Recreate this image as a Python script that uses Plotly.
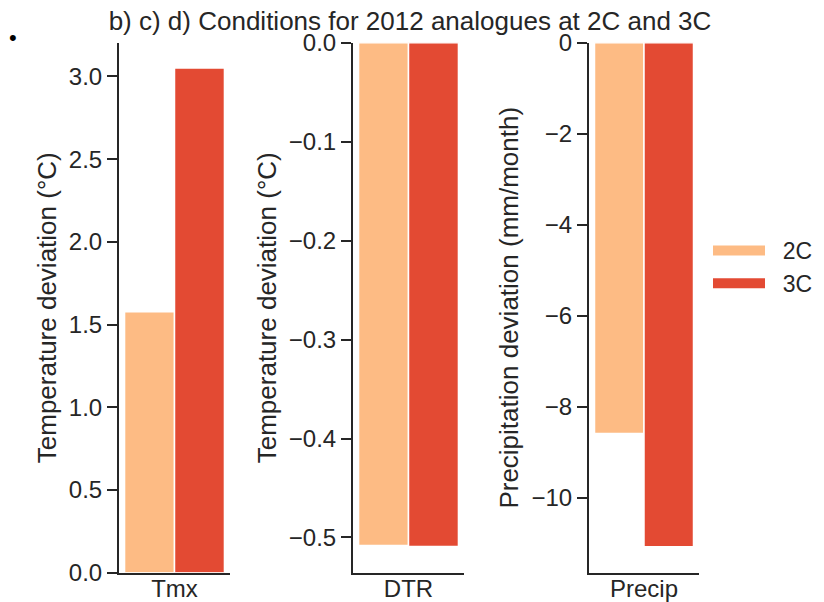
import plotly.graph_objects as go

categories = ["Tmx", "DTR", "Precip"]
series_names = ["2C", "3C"]
values_2c = [1.577, -0.508, -8.58]
values_3c = [3.05, -0.509, -11.07]
y_titles = ["Temperature deviation (°C)", "Temperature deviation (°C)", "Precipitation deviation (mm/month)"]
y_tickvals = [[0, 0.5, 1.0, 1.5, 2.0, 2.5, 3.0],
              [0, -0.1, -0.2, -0.3, -0.4, -0.5],
              [0, -2, -4, -6, -8, -10]]
y_ranges = [[0, 3.203], [-0.5356, 0], [-11.64, 0]]
y_formats = [".1f", ".1f", "d"]
title_text = "b) c) d) Conditions for 2012 analogues at 2C and 3C"

colors = {"2C": "#fdbb84", "3C": "#e34a33"}
W, H = 824, 602
OFF = 8  # page body margin offset
FONT = "Liberation Sans, Arial, sans-serif"
INK = "#262626"
NB = "\u00a0"


def px_x(v):
    return (v - OFF) / W


def px_y(v):
    return 1 - (v - OFF) / H


fig = go.Figure()
series_vals = {"2C": values_2c, "3C": values_3c}
for i, cat in enumerate(categories):
    ax = "" if i == 0 else str(i + 1)
    for name in series_names:
        fig.add_trace(go.Bar(
            x=[cat], y=[series_vals[name][i]], name=name,
            marker=dict(color=colors[name], line=dict(color="white", width=1.5)),
            xaxis="x" + ax, yaxis="y" + ax, showlegend=False, offsetgroup=name))

# legend entries
for name in series_names:
    fig.add_trace(go.Scatter(x=[None], y=[None], mode="lines", name=NB * 2 + name,
                             line=dict(color=colors[name], width=16),
                             xaxis="x3", yaxis="y3", showlegend=True))

x_px = [(119, 230), (353, 464), (589, 699)]
y_dom = [px_y(572.7), px_y(42.8)]

layout = dict(
    width=W, height=H, autosize=False,
    margin=dict(l=0, r=0, t=0, b=0, autoexpand=False),
    paper_bgcolor="white", plot_bgcolor="white",
    font=dict(family=FONT, size=24, color=INK),
    barmode="group", bargap=0.1, bargroupgap=0.0,
    title=dict(text=title_text, x=px_x(410), xanchor="center", y=px_y(21), yanchor="middle",
               font=dict(size=26, color=INK, family=FONT)),
    legend=dict(x=px_x(708), xanchor="left", y=px_y(229), yanchor="top",
                font=dict(size=23, color=INK), bgcolor="rgba(0,0,0,0)",
                tracegroupgap=0, itemwidth=52),
    showlegend=True,
    annotations=[dict(text="•", x=px_x(13), y=px_y(38), xref="paper", yref="paper",
                      xanchor="center", yanchor="middle",
                      showarrow=False, font=dict(size=22, color="black"))],
)
for i in range(3):
    ax = "" if i == 0 else str(i + 1)
    layout["xaxis" + ax] = dict(
        domain=[px_x(x_px[i][0]), px_x(x_px[i][1])], anchor="y" + ax, automargin=False,
        showline=True, linecolor=INK, linewidth=2, ticks="", showgrid=False,
        zeroline=False, tickfont=dict(size=24), ticklabelstandoff=-7, fixedrange=True)
    layout["yaxis" + ax] = dict(
        domain=y_dom, anchor="x" + ax, range=y_ranges[i], automargin=False,
        tickvals=y_tickvals[i], tickformat=y_formats[i],
        showline=True, linecolor=INK, linewidth=2, ticks="outside", ticklen=10,
        tickwidth=1.5, tickcolor=INK, showgrid=False, zeroline=False,
        tickfont=dict(size=24),
        title=dict(text=y_titles[i], font=dict(size=26), standoff=5))
fig.update_layout(**layout)
fig.write_html("out.html")
